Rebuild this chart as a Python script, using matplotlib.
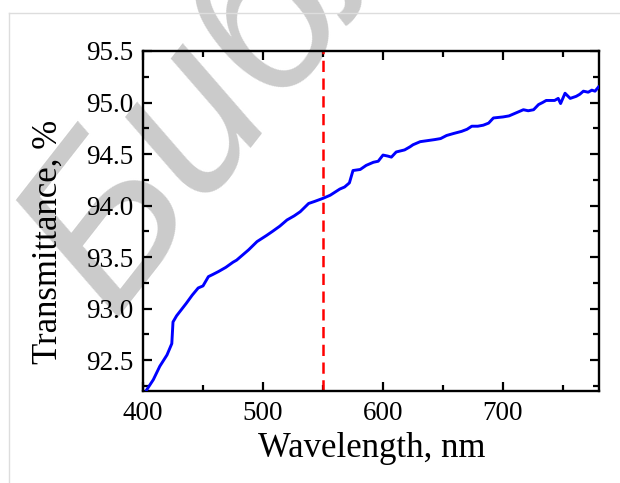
import matplotlib
matplotlib.use("Agg")
import matplotlib.pyplot as plt
from matplotlib.lines import Line2D

# wavelength (nm) and transmittance (%)
wavelength = [403, 408.6, 414, 420, 424, 425, 428, 432, 436, 441, 446, 450, 452, 454.5,
              458, 463, 469, 475, 478, 481, 488, 495, 503, 508, 514, 520, 526, 531,
              538, 543, 550, 556, 560, 564, 568, 572, 575, 581, 586, 592, 596, 600,
              604, 607, 611, 618, 622.5, 625, 631, 637, 643, 648, 653, 659, 665.5,
              670, 674, 679, 683.6, 688, 692, 700, 705, 709, 713, 717, 721, 725.5,
              729.6, 733, 736, 743, 746, 748, 751.7, 756, 761, 764, 767, 771, 774,
              776.7, 779.5]
transmittance = [92.21, 92.31, 92.44, 92.55, 92.66, 92.87, 92.93, 92.99, 93.05, 93.13,
                 93.20, 93.22, 93.26, 93.31, 93.33, 93.36, 93.40, 93.45, 93.47, 93.50,
                 93.57, 93.65, 93.71, 93.75, 93.80, 93.86, 93.90, 93.94, 94.02, 94.04,
                 94.07, 94.10, 94.13, 94.16, 94.18, 94.22, 94.34, 94.35, 94.39, 94.42,
                 94.43, 94.49, 94.48, 94.47, 94.52, 94.54, 94.57, 94.59, 94.62, 94.63,
                 94.64, 94.65, 94.68, 94.70, 94.72, 94.74, 94.77, 94.77, 94.78, 94.80,
                 94.85, 94.86, 94.87, 94.89, 94.91, 94.93, 94.92, 94.93, 94.98, 95.00,
                 95.02, 95.02, 95.04, 94.99, 95.09, 95.04, 95.06, 95.08, 95.11, 95.10,
                 95.12, 95.11, 95.15]
marker_wl = 550

xticks = [400, 500, 600, 700]
yticks = [92.5, 93.0, 93.5, 94.0, 94.5, 95.0, 95.5]

W, H = 620, 483
plt.rcParams['font.family'] = ['Liberation Serif', 'DejaVu Serif']

fig = plt.figure(figsize=(W / 100, H / 100), dpi=100)
ax = fig.add_axes([143 / W, 1 - 391 / H, (599 - 143) / W, (391 - 51) / H])
ax.set_facecolor('none')

ax.plot(wavelength, transmittance, color='#0000ff', lw=2.1, zorder=3)
ax.axvline(marker_wl, color='#ff0000', lw=1.8, ls=(0, (4.5, 2.6)), zorder=2)

ax.set_xlim(400, 780)
ax.set_ylim(92.2, 95.5)
ax.set_xticks(xticks)
ax.set_xticks([450, 550, 650, 750], minor=True)
ax.set_yticks(yticks)
ax.set_yticklabels(["%.1f" % v for v in yticks])
ax.set_yticks([92.25 + 0.5 * i for i in range(7)], minor=True)
ax.tick_params(which='both', direction='in', top=True, right=True, width=1.6,
               labelsize=19.5, pad=7)
ax.tick_params(which='major', length=6.5)
ax.tick_params(which='minor', length=4)
for s in ax.spines.values():
    s.set_linewidth(1.7)

fig.text(372 / W, 1 - 457 / H, "Wavelength, nm", fontsize=25, ha='center', va='baseline')
fig.text(48 / W, 1 - 242 / H, "Transmittance, %", fontsize=25, rotation=90,
         ha='center', va='center')

# watermark behind the axes
fig.text(112 / W, 1 - 318 / H, "Библиотека", fontsize=160, color='#cbcbcb',
         family='Liberation Sans', style='italic', rotation=52,
         rotation_mode='anchor', ha='left', va='baseline', zorder=-1)

# light grey page frame
fig.add_artist(Line2D([9 / W, 9 / W], [0, 1 - 13 / H], color='#dddddd', lw=1))
fig.add_artist(Line2D([9 / W, 1], [1 - 13 / H, 1 - 13 / H], color='#dddddd', lw=1))

fig.savefig("out.png", dpi=100)
